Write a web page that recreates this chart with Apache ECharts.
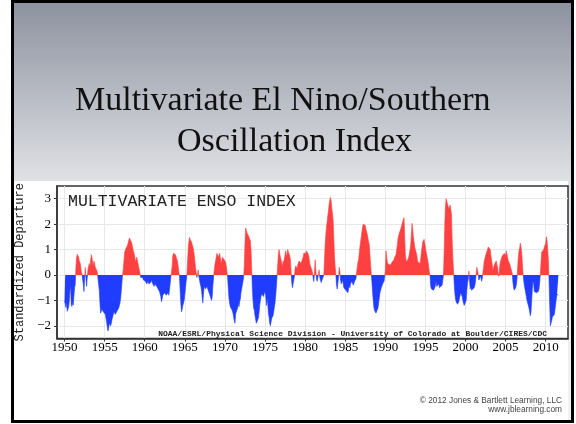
<!DOCTYPE html>
<html>
<head>
<meta charset="utf-8">
<script src="https://cdn.jsdelivr.net/npm/echarts@6/dist/echarts.min.js"></script>
<style>
html,body{margin:0;padding:0;background:#fff;}
#chart{width:576px;height:424px;}
</style>
</head>
<body>
<div id="chart"></div>
<script>
// ---- Data (bimonthly MEI values, 12 per year, starting Dec/Jan 1950) ----
const startYear = 1950;
const mei1950s = [
  -1.03,-1.13,-1.28,-1.07,-1.43,-1.41,-1.27,-1.05,-0.63,-0.42,-1.15,-1.24,
  -1.06,-1.19,-1.18,-0.50,-0.38,0.28,0.69,0.81,0.76,0.71,0.57,0.49,
  0.40,0.15,0.05,0.10,-0.35,-0.65,-0.20,0.30,-0.10,-0.45,-0.10,0.20,
  0.35,0.45,0.30,0.55,0.80,0.70,0.50,0.35,0.55,0.45,0.30,0.25,
  0.20,0.10,0.15,0.05,-0.60,-1.10,-1.50,-1.45,-1.35,-1.40,-1.45,-1.50,
  -1.45,-1.55,-1.70,-1.85,-2.05,-2.20,-2.10,-1.90,-1.85,-2.00,-1.90,-1.75,
  -1.70,-1.55,-1.45,-1.50,-1.55,-1.60,-1.50,-1.40,-1.35,-1.30,-1.30,-1.10,
  -0.90,-0.60,-0.25,0.05,0.25,0.60,0.90,0.95,1.05,1.10,1.15,1.25,
  1.35,1.45,1.48,1.40,1.30,1.20,1.05,0.95,0.85,0.75,0.50,0.55,
  0.70,0.65,0.45,0.30,0.20,0.05,-0.10,-0.05,-0.15,-0.10,-0.20,-0.15
];
const mei1960s = [
  -0.20,-0.25,-0.30,-0.35,-0.30,-0.25,-0.35,-0.30,-0.40,-0.30,-0.20,-0.25,
  -0.35,-0.40,-0.45,-0.35,-0.30,-0.40,-0.45,-0.50,-0.55,-0.60,-0.65,-0.70,
  -0.85,-1.05,-0.95,-0.80,-0.75,-0.85,-0.70,-0.65,-0.80,-0.85,-0.75,-0.70,
  -0.80,-0.60,-0.35,-0.10,0.10,0.35,0.75,0.85,0.80,0.85,0.80,0.70,
  0.70,0.55,0.35,0.15,-0.05,-0.60,-1.10,-1.45,-1.35,-1.20,-1.15,-1.00,
  -0.75,-0.50,-0.25,-0.05,0.50,1.00,1.30,1.48,1.40,1.35,1.30,1.20,
  1.10,1.00,0.80,0.55,0.30,0.10,-0.10,0.05,0.20,-0.05,-0.20,-0.35,
  -0.45,-0.60,-0.90,-1.10,-0.70,-0.45,-0.40,-0.55,-0.60,-0.45,-0.50,-0.60,
  -0.65,-0.75,-0.70,-0.80,-1.00,-0.85,-0.40,-0.10,0.20,0.40,0.55,0.60,
  0.85,0.80,0.70,0.75,0.85,0.70,0.55,0.45,0.70,0.75,0.65,0.60
];
const mei1970s = [
  0.55,0.50,0.35,0.15,-0.10,-0.50,-0.90,-1.10,-1.25,-1.30,-1.20,-1.40,
  -1.50,-1.65,-1.80,-1.90,-1.55,-1.45,-1.50,-1.30,-1.10,-1.25,-1.05,-0.95,
  -0.70,-0.55,-0.40,-0.25,-0.10,0.40,1.25,1.85,1.75,1.65,1.60,1.55,
  1.55,1.50,1.35,1.00,0.30,-0.50,-1.00,-1.30,-1.40,-1.60,-1.75,-1.90,
  -1.90,-1.85,-1.70,-1.50,-1.20,-1.00,-0.85,-0.75,-0.80,-0.70,-0.85,-0.65,
  -0.60,-0.80,-1.20,-0.95,-1.10,-1.50,-1.65,-1.90,-2.00,-1.85,-1.70,-1.75,
  -1.60,-1.45,-1.25,-1.10,-0.80,-0.45,-0.05,0.40,0.80,1.00,0.85,0.70,
  0.60,0.45,0.30,0.55,0.45,0.65,0.80,0.95,0.70,0.85,1.00,0.90,
  0.85,0.75,0.60,0.15,-0.30,-0.50,-0.35,-0.20,-0.05,0.25,0.35,0.30,
  0.25,0.40,0.45,0.55,0.60,0.50,0.45,0.55,0.60,0.70,0.85,0.90
];
const mei1980s = [
  0.92,0.85,0.95,0.98,0.90,0.80,0.65,0.45,0.35,0.30,0.20,0.10,
  -0.10,-0.26,0.10,0.60,0.20,-0.15,-0.25,-0.10,0.05,0.20,-0.10,-0.20,
  -0.30,-0.25,-0.15,-0.10,0.00,0.60,1.20,1.60,1.90,2.10,2.35,2.55,
  2.80,2.95,3.05,2.90,2.60,2.40,2.10,1.40,0.70,0.30,0.00,-0.40,
  -0.55,-0.50,-0.10,0.30,0.15,-0.20,-0.35,-0.30,-0.20,-0.35,-0.50,-0.55,
  -0.55,-0.60,-0.65,-0.60,-0.70,-0.55,-0.40,-0.50,-0.35,-0.30,-0.25,-0.30,
  -0.40,-0.35,-0.25,-0.20,-0.15,0.10,0.30,0.50,0.60,0.85,1.10,1.30,
  1.50,1.70,1.90,2.00,2.05,2.05,1.95,1.80,1.75,1.60,1.45,1.30,
  1.20,0.80,0.40,0.05,-0.30,-0.70,-1.00,-1.30,-1.40,-1.45,-1.50,-1.57,
  -1.45,-1.30,-1.10,-0.90,-0.70,-0.60,-0.50,-0.45,-0.35,-0.30,-0.25,-0.10
];
const mei1990s = [
  0.20,0.95,0.70,0.50,0.45,0.40,0.40,0.35,0.40,0.45,0.50,0.55,
  0.50,0.60,0.70,0.70,0.80,1.00,1.20,1.44,1.55,1.65,1.70,1.80,
  1.90,2.00,2.10,2.17,2.25,1.50,0.80,0.60,0.50,0.50,0.55,0.70,
  0.85,1.00,1.20,1.60,2.03,1.80,1.50,1.30,1.10,1.00,0.95,0.80,
  0.60,0.50,0.45,0.45,0.45,0.65,0.90,1.10,1.30,1.35,1.40,1.25,
  1.10,0.90,0.80,0.65,0.50,0.30,0.10,-0.05,-0.45,-0.55,-0.60,-0.55,
  -0.60,-0.62,-0.50,-0.40,-0.25,-0.45,-0.50,-0.40,-0.35,-0.50,-0.55,-0.45,
  -0.45,-0.40,-0.20,0.00,0.90,2.00,2.70,3.00,2.95,2.80,2.70,2.60,
  2.60,2.75,2.80,2.40,1.40,0.70,0.20,-0.30,-0.70,-0.95,-1.05,-1.10,
  -1.15,-1.20,-1.05,-0.90,-0.80,-0.70,-0.70,-0.85,-1.00,-1.10,-1.20,-1.15
];
const mei2000s = [
  -1.20,-1.00,-0.60,-0.30,-0.20,0.15,-0.20,-0.55,-0.45,-0.60,-0.65,-0.55,
  -0.55,-0.50,-0.40,-0.25,0.10,0.30,0.35,0.05,-0.20,-0.25,-0.15,-0.05,
  -0.25,-0.15,0.10,0.30,0.55,0.65,0.70,0.85,0.90,1.00,1.10,1.15,
  1.15,1.00,0.75,0.60,0.40,0.20,0.30,0.35,0.45,0.50,0.55,0.40,
  0.30,0.05,-0.05,0.30,0.50,0.60,0.55,0.75,0.70,0.80,0.85,0.80,
  0.75,0.95,0.90,0.70,0.55,0.50,0.45,0.35,0.25,0.15,0.05,-0.30,
  -0.50,-0.60,-0.55,-0.50,-0.40,-0.15,0.30,0.70,0.95,1.05,1.25,1.10,
  0.90,0.50,0.10,-0.20,-0.40,-0.55,-0.70,-0.85,-1.00,-1.10,-1.20,-1.30,
  -1.45,-1.60,-1.45,-1.00,-0.55,-0.25,-0.35,-0.65,-0.70,-0.70,-0.70,-0.65,
  -0.70,-0.65,-0.55,-0.30,0.05,0.50,0.90,0.95,0.90,1.00,1.10,1.15
];
const mei2010s = [
  1.25,1.50,1.35,1.00,0.60,-0.20,-1.20,-2.00,-1.95,-1.80,-1.65,-1.60,
  -1.60,-1.55,-1.60,-1.50,-0.90,-0.75,-0.70,-0.80
];
const xTickYears = [1950,1955,1960,1965,1970,1975,1980,1985,1990,1995,2000,2005,2010];
const yTickValues = [-2,-1,0,1,2,3];

// ---- Texts ----
const slideTitleLines = ['Multivariate El Nino/Southern', 'Oscillation Index'];
const chartTitle = 'MULTIVARIATE ENSO INDEX';
const creditText = 'NOAA/ESRL/Physical Science Division - University of Colorado at Boulder/CIRES/CDC';
const yAxisName = 'Standardized Departure';
const copyrightLines = ['\u00A9 2012 Jones & Bartlett Learning, LLC', 'www.jblearning.com'];

// ---- Build ----
const meiValues = [].concat(mei1950s, mei1960s, mei1970s, mei1980s, mei1990s, mei2000s, mei2010s);
const seriesData = meiValues.map((v, i) => [startYear + i / 12, v]);

const chart = echarts.init(document.getElementById('chart'), null, {renderer: 'canvas'});
const slideGradient = new echarts.graphic.LinearGradient(0, 0, 0, 1, [
  {offset: 0, color: '#8b919e'},
  {offset: 0.43, color: '#e0e1e5'},
  {offset: 1, color: '#f4f4f6'}
]);

const option = {
  animation: false,
  backgroundColor: '#ffffff',
  graphic: [
    {type: 'rect', silent: true, z: -20, shape: {x: 12.5, y: 1.5, width: 560, height: 420},
     style: {fill: slideGradient, stroke: '#000', lineWidth: 3}},
    {type: 'rect', silent: true, z: -19, shape: {x: 14, y: 181, width: 554, height: 239},
     style: {fill: '#ffffff'}},
    {type: 'text', silent: true, z: 50, x: 75, y: 101,
     style: {text: slideTitleLines[0], font: '34px "Liberation Serif"', fill: '#111', align: 'left', verticalAlign: 'middle'}},
    {type: 'text', silent: true, z: 50, x: 177, y: 142.5,
     style: {text: slideTitleLines[1], font: '34px "Liberation Serif"', fill: '#111', align: 'left', verticalAlign: 'middle'}},
    {type: 'text', silent: true, z: 50, x: 68, y: 202,
     style: {text: chartTitle, font: '16.5px "Liberation Mono"', fill: '#222', align: 'left', verticalAlign: 'middle'}},
    {type: 'text', silent: true, z: 50, x: 547, y: 334,
     style: {text: creditText, font: 'bold 8px "Liberation Mono"', fill: '#222', align: 'right', verticalAlign: 'middle'}},
    {type: 'text', silent: true, z: 50, x: 562, y: 401,
     style: {text: copyrightLines[0], font: '8.3px "Liberation Sans"', fill: '#444', align: 'right', verticalAlign: 'middle'}},
    {type: 'text', silent: true, z: 50, x: 562, y: 410,
     style: {text: copyrightLines[1], font: '8.3px "Liberation Sans"', fill: '#444', align: 'right', verticalAlign: 'middle'}}
  ],
  grid: {
    left: 57, right: 8, top: 186, bottom: 85.5,
    show: true, borderColor: '#333', borderWidth: 1.5, backgroundColor: 'transparent'
  },
  xAxis: {
    type: 'value', min: 1949.06, max: 2012.78, splitNumber: 13,
    axisLine: {show: true, onZero: false, lineStyle: {color: '#333', width: 1.5}},
    axisTick: {show: true, length: 3, inside: false, customValues: xTickYears, lineStyle: {color: '#333'}},
    axisLabel: {customValues: xTickYears, margin: 3, color: '#000', fontFamily: 'Liberation Serif', fontSize: 13,
      formatter: v => String(Math.round(v))},
    splitLine: {show: true, lineStyle: {color: '#e8e8e8', width: 1}}
  },
  yAxis: {
    type: 'value', min: -2.5, max: 3.5, splitNumber: 6,
    name: yAxisName, nameLocation: 'middle', nameRotate: 90, nameGap: 29,
    nameTextStyle: {fontFamily: 'Liberation Mono', fontSize: 12, color: '#222'},
    axisLine: {show: true, onZero: false, lineStyle: {color: '#333', width: 1.5}},
    axisTick: {show: true, length: 3, inside: false, customValues: yTickValues, lineStyle: {color: '#333'}},
    axisLabel: {customValues: yTickValues, margin: 6, color: '#000', fontFamily: 'Liberation Serif', fontSize: 13,
      formatter: v => (v < 0 ? '\u2212' + Math.abs(v) : String(v))},
    splitLine: {show: true, lineStyle: {color: '#e8e8e8', width: 1}}
  },
  visualMap: {
    show: false, type: 'piecewise', dimension: 1, seriesIndex: 0, min: -10, max: 10,
    pieces: [{gte: -10, lt: 0, color: '#1f3cff'}, {gte: 0, lte: 10, color: '#ff4040'}],
    outOfRange: {color: '#999'}
  },
  series: [{
    type: 'line', data: seriesData, symbol: 'none', showSymbol: false,
    lineStyle: {width: 0.6}, areaStyle: {opacity: 1}, clip: true, z: 2
  }]
};
chart.setOption(option);
</script>
</body>
</html>
